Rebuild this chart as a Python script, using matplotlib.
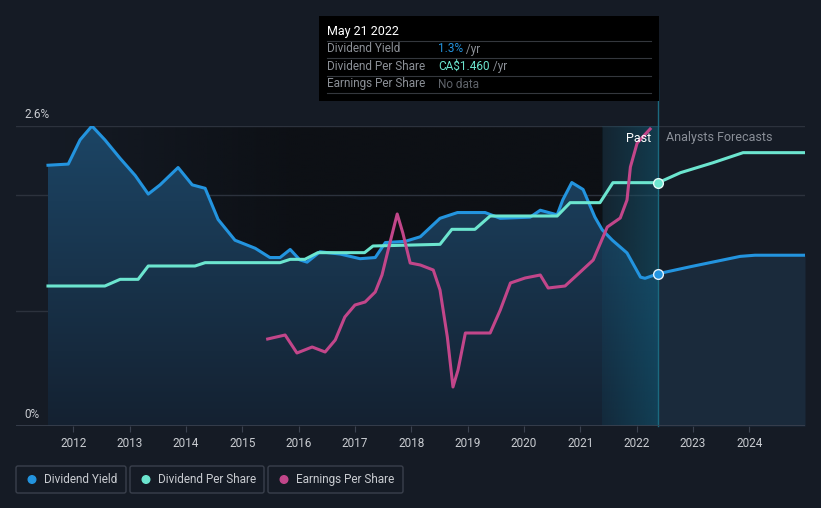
#!/usr/bin/env python3
"""Dividend yield / DPS / EPS history chart, dark theme -> out.png"""
import matplotlib
matplotlib.use("Agg")
import matplotlib.pyplot as plt
from matplotlib.patches import FancyBboxPatch, Rectangle, Circle
from matplotlib.colors import to_rgb
import numpy as np

plt.rcParams["font.family"] = ["Roboto", "DejaVu Sans"]

# ---- data ----
yield_years = [2011.55, 2011.91, 2012.12, 2012.33, 2012.56, 2012.83, 2013.10, 2013.33,
               2013.54, 2013.86, 2014.11, 2014.34, 2014.57, 2014.87, 2015.23, 2015.49,
               2015.67, 2015.85, 2016.02, 2016.15, 2016.38, 2016.74, 2017.09, 2017.36,
               2017.54, 2017.89, 2018.16, 2018.51, 2018.82, 2019.31, 2019.58, 2020.11,
               2020.29, 2020.59, 2020.69, 2020.85, 2021.05, 2021.26, 2021.39, 2021.57,
               2021.83, 2022.07, 2022.15, 2022.385]
yield_pct = [2.26, 2.27, 2.48, 2.60, 2.48, 2.32, 2.17, 2.01,
             2.09, 2.24, 2.09, 2.06, 1.79, 1.61, 1.54, 1.46,
             1.46, 1.53, 1.44, 1.42, 1.51, 1.49, 1.45, 1.46,
             1.59, 1.60, 1.64, 1.80, 1.85, 1.85, 1.80, 1.81,
             1.87, 1.83, 1.96, 2.11, 2.05, 1.81, 1.70, 1.61,
             1.50, 1.29, 1.28, 1.32]
yield_fc_years = [2022.385, 2022.95, 2023.84, 2024.10, 2024.99]
yield_fc_pct = [1.32, 1.38, 1.47, 1.48, 1.48]

dps_years = [2011.55, 2012.56, 2012.83, 2013.15, 2013.33, 2014.16, 2014.34, 2015.67,
             2015.85, 2016.11, 2016.34, 2017.17, 2017.32, 2018.51, 2018.72, 2019.13,
             2019.40, 2020.59, 2020.82, 2021.35, 2021.58, 2022.385]
dps_cad = [0.84, 0.84, 0.88, 0.88, 0.96, 0.96, 0.98, 0.98,
           1.00, 1.00, 1.04, 1.04, 1.08, 1.09, 1.18, 1.18,
           1.26, 1.26, 1.34, 1.34, 1.46, 1.46]
dps_fc_years = [2022.385, 2022.78, 2023.36, 2023.89, 2024.99]
dps_fc_cad = [1.46, 1.52, 1.58, 1.64, 1.64]

eps_years = [2015.45, 2015.76, 2015.97, 2016.24, 2016.47, 2016.65, 2016.82, 2017.00,
             2017.18, 2017.36, 2017.48, 2017.62, 2017.75, 2017.85, 2017.98, 2018.16,
             2018.39, 2018.51, 2018.64, 2018.74, 2018.83, 2018.96, 2019.40, 2019.58,
             2019.76, 2020.02, 2020.29, 2020.43, 2020.73, 2021.00, 2021.23, 2021.48,
             2021.71, 2021.83, 2021.89, 2022.01, 2022.24]
eps_cad = [1.74, 1.82, 1.46, 1.58, 1.48, 1.72, 2.18, 2.42,
           2.48, 2.68, 3.02, 3.66, 4.24, 3.86, 3.26, 3.22,
           3.12, 2.72, 1.78, 0.78, 1.12, 1.86, 1.86, 2.32,
           2.86, 2.96, 3.02, 2.76, 2.80, 3.08, 3.32, 3.98,
           4.16, 4.52, 5.18, 5.66, 5.94]

year_ticks = list(range(2012, 2025))
today = 2022.385
past_start = 2021.39

# ---- colours ----
BG = "#151b25"
DARK = "#0d1015"
BLUE = "#2394df"
TEAL = "#6ce5cf"
PINK = "#c2468a"
GRID = "#2c323d"
TEXT = "#c9ccd1"

fig = plt.figure(figsize=(8.21, 5.08), dpi=100, facecolor=BG)
W, H = 821, 508
ax = fig.add_axes([16 / W, (H - 426) / H, 789 / W, 300 / H])
ax.set_facecolor(BG)
ax.set_xlim(2010.982, 2024.99)
ax.set_ylim(0, 2.6)
for s in ax.spines.values():
    s.set_visible(False)
ax.set_yticks([])
ax.set_xticks(year_ticks)
ax.set_xticklabels([str(y) for y in year_ticks], color=TEXT, fontsize=8.5)
ax.tick_params(axis="x", length=4, color="#3b4250", pad=4)
ax.axhline(0, color="#3b4250", lw=1.2, zorder=6)
for g in [1.0, 2.0, 2.6]:
    ax.axhline(g, color=GRID, lw=1, zorder=1)

# darker backdrop behind the past data
grad = np.zeros((2, 256, 4))
grad[..., :3] = to_rgb(DARK)
grad[..., 3] = np.clip(np.linspace(0, 2.2, 256), 0, 1)
ax.imshow(grad, extent=[yield_years[0], past_start, 0, 2.6], aspect="auto",
          origin="lower", zorder=0.5, interpolation="bilinear")

# gradient fill under past yield
poly = ax.fill_between(yield_years, yield_pct, 0, facecolor="none", edgecolor="none", zorder=2)
vgrad = np.zeros((256, 2, 4))
top, bot = np.array(to_rgb("#1c4565")), np.array(to_rgb("#142131"))
t = np.linspace(0, 1, 256)[:, None]
vgrad[..., :3] = (bot * (1 - t) + top * t)[:, None, :]
vgrad[..., 3] = 1
im = ax.imshow(vgrad, extent=[yield_years[0], today, 0, 2.6], aspect="auto",
               origin="lower", zorder=2, interpolation="bilinear")
im.set_clip_path(poly.get_paths()[0], transform=ax.transData)

# forecast fill
ax.fill_between(yield_fc_years, yield_fc_pct, 0, color="#1a2a3b", lw=0, zorder=2)

# past-year highlight band
hgrad = np.zeros((2, 256, 4))
hgrad[..., :3] = to_rgb("#0f6a88")
hgrad[..., 3] = np.linspace(0.12, 0.42, 256)
ax.imshow(hgrad, extent=[past_start, today, 0, 2.6], aspect="auto",
          origin="lower", zorder=3, interpolation="bilinear")
ax.plot([today, today], [0, 3.0], color="#1b6a80", lw=1, zorder=3, clip_on=False)

# lines
ax.plot(yield_years, yield_pct, color=BLUE, lw=2.2, zorder=7, solid_joinstyle="round")
ax.plot(yield_fc_years, yield_fc_pct, color=BLUE, lw=2.2, zorder=7)
ax.plot([today], [yield_pct[-1]], "o", ms=7, mfc=BLUE, mec="#e6f2fb", mew=1, zorder=10)

ax2 = ax.twinx()
ax2.set_ylim(0, 1.80)
ax2.axis("off")
ax2.plot(dps_years, dps_cad, color=TEAL, lw=2.2, zorder=7, solid_joinstyle="round")
ax2.plot(dps_fc_years, dps_fc_cad, color=TEAL, lw=2.2, zorder=7)
ax2.plot([today], [dps_cad[-1]], "o", ms=7, mfc=TEAL, mec="#e6fbf7", mew=1, zorder=10)

ax3 = ax.twinx()
ax3.set_ylim(0, 6.0)
ax3.axis("off")
ax3.plot(eps_years, eps_cad, color=PINK, lw=2.2, zorder=7, solid_joinstyle="round")

# ---- overlay: labels, tooltip, legend ----
ov = fig.add_axes([0, 0, 1, 1])
ov.set_xlim(0, W)
ov.set_ylim(H, 0)
ov.axis("off")

ov.text(24, 115, "2.6%", color=TEXT, fontsize=8.5, va="center", ha="left")
ov.text(24, 414, "0%", color=TEXT, fontsize=8.5, va="center", ha="left")
ov.text(651, 138, "Past", color="#ffffff", fontsize=9, va="center", ha="right")
ov.text(666, 138, "Analysts Forecasts", color="#8a8f98", fontsize=9, va="center", ha="left")

ov.add_patch(Rectangle((319, 16), 340, 85, facecolor="#000000", edgecolor="none", zorder=5))
ov.text(327, 31, "May 21 2022", color="#ffffff", fontsize=9, va="center", zorder=6)
for ys in [41, 58, 76, 93]:
    ov.plot([327, 651], [ys, ys], color="#34373d", lw=0.8, zorder=6)
rows = [("Dividend Yield", "1.3%", BLUE), ("Dividend Per Share", "CA$1.460", TEAL),
        ("Earnings Per Share", "No data", "#5f636a")]
for i, (lab, val, col) in enumerate(rows):
    yy = 49 + i * 17.5
    ov.text(327, yy, lab, color="#8c9097", fontsize=8.5, va="center", zorder=6)
    tv = ov.text(438, yy, val, color=col, fontsize=8.5, va="center", zorder=6)
    if val != "No data":
        ov.annotate(" /yr", xycoords=tv, xy=(1, 0.5), va="center", color="#8c9097",
                    fontsize=8.5, zorder=6)

legend = [("Dividend Yield", BLUE, 16, 110), ("Dividend Per Share", TEAL, 130, 134),
          ("Earnings Per Share", PINK, 268, 135)]
for lab, col, x0, w in legend:
    ov.add_patch(FancyBboxPatch((x0, 466), w, 27, boxstyle="round,pad=0,rounding_size=2",
                                facecolor="none", edgecolor="#3a404c", lw=1))
    ov.add_patch(Circle((x0 + 16, 479.5), 3.8, color=col))
    ov.text(x0 + 28, 479.5, lab, color=TEXT, fontsize=8.5, va="center")

fig.savefig("out.png", dpi=100, facecolor=BG)
